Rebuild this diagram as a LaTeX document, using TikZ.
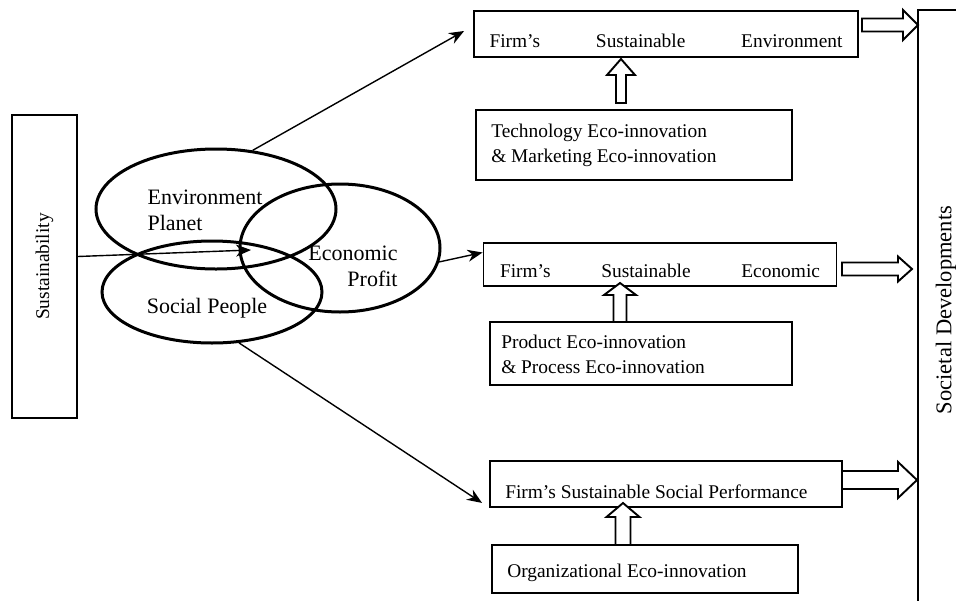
\documentclass[tikz,border=0pt]{standalone}
\usepackage{fontspec}
\setmainfont{Liberation Serif}
\usetikzlibrary{shapes.geometric,arrows.meta,calc}

\tikzset{
  box/.style={draw, line width=1.9pt, rectangle, inner sep=0pt},
  ring/.style={draw, ellipse, line width=3pt, inner sep=0pt},
  conn/.style={line width=1.4pt, -{Stealth[length=15pt,width=12pt]}},
  fat/.style={draw, line width=1.9pt, fill=white, line join=miter},
  txt/.style={font=\fontsize{19.4}{25}\selectfont, inner sep=0pt},
  ringtxt/.style={font=\fontsize{22}{26}\selectfont, inner sep=0pt},
  % right block arrow: length, body half, head half, head length
  pics/rblock/.style n args={4}{code={
    \draw[fat] (0,#2) -- ({#1-#4},#2) -- ({#1-#4},#3) -- (#1,0)
      -- ({#1-#4},-#3) -- ({#1-#4},-#2) -- (0,-#2) -- cycle;}},
  % upward block arrow: length, body half, head half, head length
  pics/ublock/.style n args={4}{code={
    \draw[fat] (#2,0) -- (#2,{-(#1-#4)}) -- (#3,{-(#1-#4)}) -- (0,-#1)
      -- (-#3,{-(#1-#4)}) -- (-#2,{-(#1-#4)}) -- (-#2,0) -- cycle;}},
}

\begin{document}
\begin{tikzpicture}[x=1pt,y=-1pt]
  \useasboundingbox (0,0) rectangle (956,600);
  \clip (0,0) rectangle (956,600);

  % left side
  \node[box, minimum width=65pt, minimum height=303pt] (sust) at (44.5,266.5) {};
  \node[txt, rotate=90] at (sust.center) {Sustainability};

  \node[ring, minimum width=240pt, minimum height=120pt] (env) at (216,209) {};
  \node[ring, minimum width=200pt, minimum height=128pt] (eco) at (340,248) {};
  \node[ring, minimum width=220pt, minimum height=102pt] (soc) at (212,292) {};
  \node[ringtxt, align=left] (envtext) at (205,210) {Environment\\Planet};
  \node[ringtxt, align=right] (ecotext) at (353,266) {Economic\\Profit};
  \node[ringtxt] (soctext) at (207,308) {Social People};

  \coordinate (hub) at (251,250);
  \draw[conn] ($(sust.east)+(0,-10)$) -- (hub);

  % outcome boxes
  \node[box, minimum width=384pt, minimum height=46pt] (fenv) at (666,34) {};
  \node[txt, text width=353pt] at ($(fenv.center)+(0,7)$) {Firm's\hfill Sustainable\hfill Environment};
  \node[box, minimum width=353pt, minimum height=43pt] (feco) at (660,264.5) {};
  \node[txt, text width=320pt] at ($(feco.center)+(0,6)$) {Firm's\hfill Sustainable\hfill Economic};
  \node[box, minimum width=352pt, minimum height=46pt] (fsoc) at (666,484) {};
  \node[txt, anchor=west] at ($(fsoc.west)+(16,8)$) {Firm's Sustainable Social Performance};

  % eco-innovation boxes
  \node[box, minimum width=316pt, minimum height=70pt] (tech) at (634,145) {};
  \node[txt, anchor=west, align=left] at ($(tech.west)+(16,0)$) {Technology Eco-innovation\\\& Marketing Eco-innovation};
  \node[box, minimum width=302pt, minimum height=63pt] (prod) at (641,353.5) {};
  \node[txt, anchor=west, align=left] at ($(prod.west)+(12,1)$) {Product Eco-innovation\\\& Process Eco-innovation};
  \node[box, minimum width=306pt, minimum height=48pt] (org) at (645,569) {};
  \node[txt, anchor=west] at ($(org.west)+(16,4)$) {Organizational Eco-innovation};

  % right strip
  \node[draw, line width=2.6pt, minimum width=56pt, minimum height=598pt] (dev) at (946,309) {};
  \node[txt, font=\fontsize{22.5}{26}\selectfont, rotate=90] at ($(dev.center)+(0,1)$) {Societal Developments};

  % connectors
  \draw[conn] (env.58) -- ($(fenv.west)+(-9,-3)$);
  \draw[conn] (eco.-8) -- ($(feco.west)+(0,-12)$);
  \draw[conn] (soc.-62) -- ($(fsoc.south west)+(-7,-5)$);

  \pic at (862,25) {rblock={56}{6.5}{15}{15}};
  \pic at (842,269) {rblock={70}{6.5}{12.5}{14}};
  \pic at (842,480) {rblock={75}{9}{18}{19}};

  \pic at (621,103) {ublock={44}{5}{14}{16}};
  \pic at (620,322) {ublock={39}{6.5}{16}{12}};
  \pic at (623,545) {ublock={42}{7.5}{16.5}{14}};
\end{tikzpicture}
\end{document}
